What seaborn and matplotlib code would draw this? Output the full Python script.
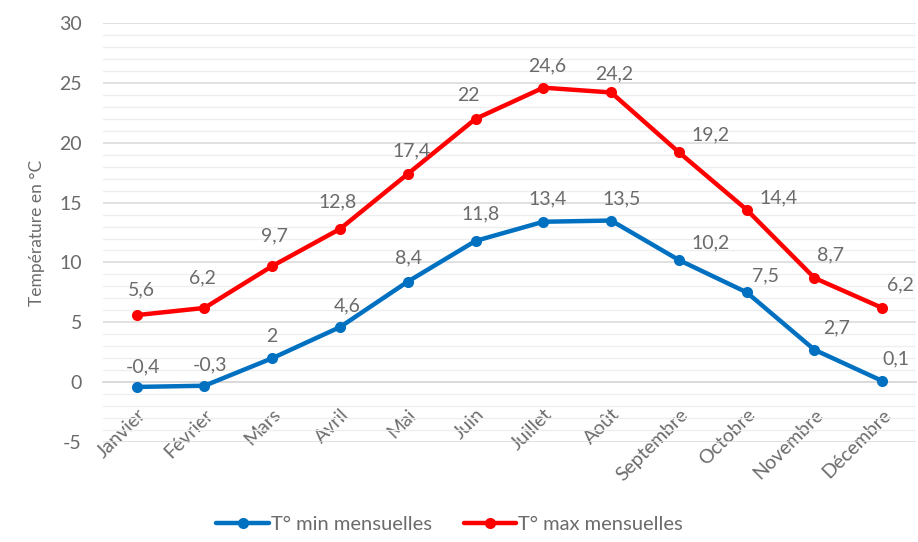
import matplotlib
matplotlib.use("Agg")
import matplotlib.pyplot as plt
from matplotlib.lines import Line2D
from matplotlib.ticker import MultipleLocator
import pandas as pd
import seaborn as sns

# Monthly temperatures (°C)
mois = ["Janvier", "Février", "Mars", "Avril", "Mai", "Juin", "Juillet",
        "Août", "Septembre", "Octobre", "Novembre", "Décembre"]
t_min = [-0.4, -0.3, 2, 4.6, 8.4, 11.8, 13.4, 13.5, 10.2, 7.5, 2.7, 0.1]
t_max = [5.6, 6.2, 9.7, 12.8, 17.4, 22, 24.6, 24.2, 19.2, 14.4, 8.7, 6.2]
series = ["T° min mensuelles", "T° max mensuelles"]
y_ticks = [-5, 0, 5, 10, 15, 20, 25, 30]

# Label placement (pixel offsets from each marker)
off_min = [(6, 20), (6, 21), (0, 22), (7, 21), (1, 24), (5, 27),
           (4, 23), (10, 22), (32, 17), (19, 16), (22, 22), (14, 22)]
off_max = [(5, 25), (-2, 30), (2, 30), (-2, 27), (4, 23), (-7, 23),
           (4, 22), (3, 19), (32, 17), (32, 12), (16, 23), (18, 23)]

colors = {series[0]: "#0070C0", series[1]: "#FF0000"}
grey = "#6b6b6b"

df = pd.DataFrame({
    "mois": mois * 2,
    "temp": t_min + t_max,
    "serie": [series[0]] * len(mois) + [series[1]] * len(mois),
})

sns.set_theme(style="white")
plt.rcParams["font.family"] = ["Lato", "DejaVu Sans"]
plt.rcParams["axes.unicode_minus"] = False

fig = plt.figure(figsize=(9.18, 5.42), dpi=100)
ax = fig.add_axes([0.112, 0.1845, 0.886, 0.773])

sns.lineplot(data=df, x="mois", y="temp", hue="serie", palette=colors,
             marker="o", markersize=8, markeredgewidth=0, linewidth=3.2,
             sort=False, legend=False, ax=ax, zorder=3)

ax.set_xlim(-0.5, len(mois) - 0.5)
ax.set_ylim(-5, 30)
ax.set_yticks(y_ticks)
ax.yaxis.set_minor_locator(MultipleLocator(1))
ax.grid(axis="y", which="major", color="#d9d9d9", linewidth=1.1)
ax.grid(axis="y", which="minor", color="#eeeeee", linewidth=0.9)
ax.grid(axis="x", visible=False)
ax.set_axisbelow(True)

for side in ["left", "right", "top"]:
    ax.spines[side].set_visible(False)
ax.spines["bottom"].set_position(("data", 0))
ax.spines["bottom"].set_color("#d9d9d9")
ax.spines["bottom"].set_zorder(1)

ax.tick_params(axis="y", length=0, pad=15, labelsize=14, labelcolor=grey)
ax.tick_params(axis="x", length=0, pad=17, labelsize=14, labelcolor=grey)
ax.set_xticks(range(len(mois)))
ax.set_xticklabels(mois, rotation=45, ha="right", va="top",
                   rotation_mode="anchor")
ax.set_xlabel("")
ax.set_ylabel("Température en °C", fontsize=12.5, color=grey, labelpad=10)


def fmt(v):
    return f"{v:g}".replace(".", ",")


for vals, offs in [(t_min, off_min), (t_max, off_max)]:
    for i, (v, (dx, dy)) in enumerate(zip(vals, offs)):
        ax.annotate(fmt(v), (i, v), xytext=(dx, dy),
                    textcoords="offset pixels", ha="center", va="center",
                    fontsize=14, color=grey, zorder=4)

handles = [Line2D([], [], color=colors[s], marker="o", markersize=8,
                  markeredgewidth=0, linewidth=3.2) for s in series]
fig.legend(handles, series, loc="center", bbox_to_anchor=(0.49, 0.032),
           ncol=2, frameon=False, fontsize=14.5, labelcolor=grey,
           handlelength=2.6, handletextpad=0.1, columnspacing=1.6)

fig.savefig("out.png", dpi=100)
